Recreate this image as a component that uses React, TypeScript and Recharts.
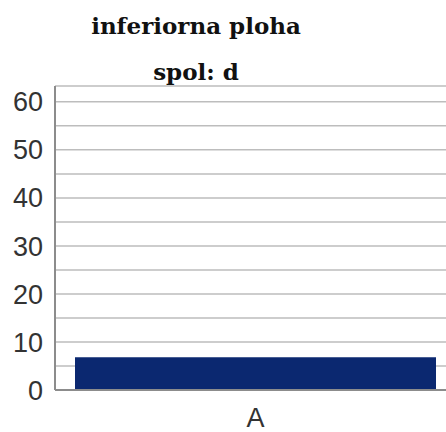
import { BarChart, Bar, XAxis, YAxis, CartesianGrid } from 'recharts'

const categories = ['A']
const values = [6.8]
const yTicks = [0, 5, 10, 15, 20, 25, 30, 35, 40, 45, 50, 55, 60]

const data = categories.map((name, i) => ({ name, value: values[i] }))

const titleStyle: React.CSSProperties = {
  position: 'absolute',
  left: 0,
  width: 392,
  textAlign: 'center',
  fontFamily: '"DejaVu Serif", serif',
  fontWeight: 'bold',
  fontSize: 23,
  color: '#111',
  lineHeight: 1,
  whiteSpace: 'nowrap',
}

const tickFont = { fill: '#333', fontSize: 27, fontFamily: '"Liberation Sans", sans-serif' }

export default function App() {
  return (
    <div style={{ position: 'absolute', left: 0, top: 0, width: 446, height: 432, overflow: 'hidden', background: '#fff' }}>
      {/* title lines */}
      <div style={{ ...titleStyle, top: 14 }}>inferiorna ploha</div>
      <div style={{ ...titleStyle, top: 60 }}>spol: d</div>
      <div style={{ position: 'absolute', left: 0, top: 0 }}>
        <BarChart
          width={456}
          height={432}
          data={data}
          margin={{ top: 86, right: 0, bottom: 12, left: 0 }}
          barCategoryGap={20}
        >
          <CartesianGrid vertical={false} stroke="#bdbdbd" strokeWidth={1.5} />
          <XAxis
            dataKey="name"
            height={30}
            axisLine={{ stroke: '#8c8c8c', strokeWidth: 2 }}
            tickLine={false}
            tick={tickFont}
            tickMargin={12}
          />
          <YAxis
            width={55}
            domain={[0, 63.3]}
            ticks={yTicks}
            interval={0}
            allowDataOverflow
            axisLine={{ stroke: '#8c8c8c', strokeWidth: 2 }}
            tickLine={false}
            tickFormatter={(v: number) => (v % 10 === 0 ? String(v) : '')}
            tick={tickFont}
            tickMargin={6}
          />
          <Bar dataKey="value" fill="#0b2870" isAnimationActive={false} />
        </BarChart>
      </div>
    </div>
  )
}
